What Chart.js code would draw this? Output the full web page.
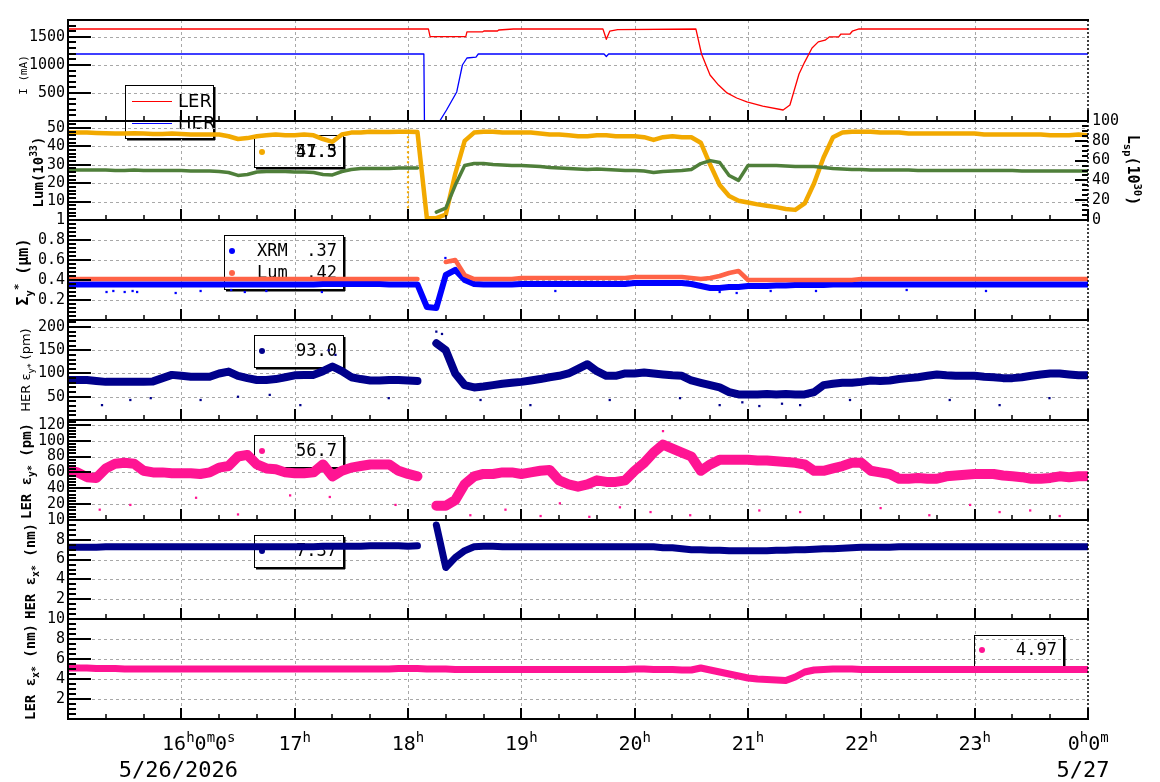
<!DOCTYPE html>
<html>
<head>
<meta charset="utf-8">
<script src="https://cdn.jsdelivr.net/npm/chart.js@4.4.0/dist/chart.umd.min.js"></script>
<style>
  body { margin: 0; background: #fff; width: 1160px; height: 782px; overflow: hidden; position: relative; }
  canvas { position: absolute; left: 0; }
</style>
</head>
<body>
<script>
// ---- time axis (hours, 15:00 -> 24:00) ----
const t5 = Array.from({ length: 109 }, (_, i) => 15 + i / 12);   // 5 minute grid
const hourTicks = [16, 17, 18, 19, 20, 21, 22, 23, 24];
const timeLabels = [['16', '^h', '0', '^m', '0', '^s'], ['17', '^h'], ['18', '^h'], ['19', '^h'], ['20', '^h'],
                    ['21', '^h'], ['22', '^h'], ['23', '^h'], ['0', '^h', '0', '^m']];
const dateTicks = [16, 24];
const dateLabels = ['5/26/2026', '5/27'];

// ---- beam currents (mA) ----
const tLER = [15, 18.18, 18.195, 18.51, 18.52, 18.66, 18.67, 18.79, 18.8, 18.93, 19.72, 19.75, 19.78, 19.85,
              20.54, 20.59, 20.665, 20.74, 20.815, 20.9, 20.99, 21.13, 21.31, 21.37, 21.45, 21.5, 21.565,
              21.62, 21.68, 21.72, 21.8, 21.82, 21.9, 21.92, 21.98, 24];
const curLER = [1640, 1640, 1505, 1505, 1590, 1590, 1604, 1604, 1622, 1640, 1640, 1456, 1600, 1630,
                1640, 1194, 820, 640, 500, 410, 339, 267, 196, 285, 837, 1050, 1300,
                1410, 1440, 1500, 1500, 1550, 1550, 1600, 1640, 1640];
const tHER = [15, 18.14, 18.145, 18.28, 18.34, 18.43, 18.48, 18.52, 18.6, 18.62, 19.73, 19.75, 19.77, 24];
const curHER = [1194, 1194, 0, 0, 196, 517, 998, 1123, 1140, 1194, 1194, 1150, 1194, 1194];

// ---- luminosity: Lum (10^33, left) and Lsp (10^30, right) ----
const lum = [
  47.5, 47.5, 47.5, 47.3, 47.2, 47.0, 47.0, 47.2, 47.0, 46.8, 46.8, 47.0,
  46.8, 46.5, 46.5, 46.5, 46.5, 45.5, 44.0, 44.5, 45.5, 46.0, 46.5, 46.0,
  46.0, 46.5, 46.0, 44.0, 42.5, 46.5, 47.5, 47.5, 48.0, 47.8, 47.8, 48.0,
  48.0, 47.8, 1, 1, 3, 25, 43, 47.5, 48, 48, 47.5, 47.5,
  47.5, 47.5, 47, 46.5, 46.5, 46, 45.5, 45.5, 46, 46, 45.5, 45.5,
  45.5, 45, 43.5, 45, 45.5, 45, 45, 42, 30, 19, 13, 10.5,
  9.5, 8.5, 7.8, 7, 6, 5.5, 9, 20, 34, 45, 47.5, 48,
  48, 48, 47.5, 47.5, 47.5, 47, 47, 47, 47, 47, 47, 47,
  47, 46.5, 46.5, 46.5, 46.5, 46.5, 46.5, 46.5, 46, 46, 46, 46.5,
  46];
const lumMarkT = [18.0, 18.0];      // dotted Lum trace at the 18h mark
const lumMarkV = [1, 47];
const lsp = [
  50.5, 50.5, 50.5, 50.5, 50.5, 50, 50, 50.5, 50, 50, 50, 50,
  50, 49.5, 49.5, 49.5, 49, 48, 45, 46, 48.5, 49, 49, 49,
  48.5, 48.5, 48, 46, 45.5, 49, 51, 52, 52, 52, 52, 52.5,
  52.5, 52.5, null, 8, 12, 35, 55, 57, 57, 56, 55.5, 55,
  55, 54.5, 54, 53, 52.5, 52, 51.5, 51, 51.5, 51, 50.5, 50,
  50, 49.5, 48, 49, 49.5, 50, 51, 57, 60, 58, 45, 40,
  55, 55, 55, 55, 54.5, 54, 54, 54, 53, 52, 51.5, 51,
  51, 50.5, 50.5, 50.5, 50.5, 50.5, 50, 50, 50, 50, 50, 50,
  50, 50, 50, 50, 50, 49.5, 49.5, 49.5, 49.5, 49.5, 49.5, 49.5,
  49.5];

// ---- vertical beam size (um) ----
const sigLum = [
  0.41, 0.41, 0.41, 0.41, 0.41, 0.41, 0.41, 0.41, 0.41, 0.41, 0.41, 0.41,
  0.41, 0.41, 0.41, 0.41, 0.41, 0.41, 0.41, 0.41, 0.41, 0.41, 0.41, 0.41,
  0.41, 0.41, 0.41, 0.41, 0.41, 0.41, 0.41, 0.41, 0.41, 0.41, 0.41, 0.41,
  0.41, 0.41, null, null, 0.58, 0.6, 0.45, 0.41, 0.41, 0.41, 0.41, 0.41,
  0.42, 0.42, 0.42, 0.42, 0.42, 0.42, 0.42, 0.42, 0.42, 0.42, 0.42, 0.42,
  0.43, 0.43, 0.43, 0.43, 0.43, 0.43, 0.42, 0.41, 0.42, 0.44, 0.47, 0.49,
  0.40, 0.40, 0.40, 0.40, 0.40, 0.40, 0.40, 0.40, 0.40, 0.40, 0.40, 0.40,
  0.41, 0.41, 0.41, 0.41, 0.41, 0.41, 0.41, 0.41, 0.41, 0.41, 0.41, 0.41,
  0.41, 0.41, 0.41, 0.41, 0.41, 0.41, 0.41, 0.41, 0.41, 0.41, 0.41, 0.41,
  0.41];
const sigXRM = [
  0.355, 0.355, 0.355, 0.355, 0.355, 0.355, 0.355, 0.355, 0.355, 0.355, 0.355, 0.355,
  0.355, 0.355, 0.355, 0.355, 0.355, 0.355, 0.355, 0.355, 0.355, 0.355, 0.355, 0.355,
  0.355, 0.355, 0.355, 0.36, 0.36, 0.36, 0.36, 0.36, 0.36, 0.36, 0.355, 0.355,
  0.355, 0.355, 0.13, 0.12, 0.45, 0.5, 0.4, 0.36, 0.355, 0.355, 0.355, 0.355,
  0.36, 0.36, 0.36, 0.36, 0.36, 0.36, 0.36, 0.36, 0.36, 0.36, 0.36, 0.36,
  0.37, 0.37, 0.37, 0.37, 0.37, 0.37, 0.36, 0.34, 0.32, 0.32, 0.33, 0.33,
  0.34, 0.34, 0.34, 0.345, 0.345, 0.35, 0.35, 0.35, 0.35, 0.355, 0.355, 0.355,
  0.355, 0.355, 0.355, 0.355, 0.355, 0.355, 0.355, 0.355, 0.355, 0.355, 0.355, 0.355,
  0.355, 0.355, 0.355, 0.355, 0.355, 0.355, 0.355, 0.355, 0.355, 0.355, 0.355, 0.355,
  0.355];
const xrmOutT = [15.34, 15.4, 15.5, 15.57, 15.61, 15.95, 16.17, 16.44, 16.56, 16.75, 17.24, 18.33, 18.38, 18.42,
                 19.3, 20.75, 20.9, 21.2, 21.6, 22.4, 23.1];
const xrmOutV = [0.28, 0.29, 0.28, 0.29, 0.28, 0.27, 0.29, 0.3, 0.28, 0.29, 0.28, 0.62, 0.58, 0.52,
                 0.29, 0.28, 0.27, 0.29, 0.29, 0.3, 0.29];

// ---- vertical emittance (pm) ----
const herEy = [
  86, 86, 86, 84, 82, 82, 82, 82, 82, 83, 90, 97,
  95, 93, 93, 93, 100, 104, 95, 90, 86, 86, 88, 92,
  96, 97, 97, 105, 115, 105, 92, 88, 85, 85, 86, 86,
  85, 84, null, 165, 150, 100, 75, 70, 72, 75, 78, 80,
  82, 85, 88, 92, 95, 100, 110, 120, 105, 95, 95, 100,
  100, 102, 100, 98, 96, 95, 85, 80, 75, 70, 60, 55,
  55, 55, 56, 55, 56, 55, 55, 60, 75, 78, 80, 80,
  82, 85, 84, 85, 88, 90, 92, 95, 98, 96, 95, 95,
  95, 93, 92, 90, 90, 92, 95, 98, 100, 100, 98, 96,
  96];
const herEyOutT = [15.3, 15.55, 15.73, 16.17, 16.5, 16.78, 17.05, 17.3, 17.36, 17.83, 18.25, 18.3, 18.64, 19.08,
                   19.78, 20.4, 20.75, 20.95, 21.1, 21.3, 21.46, 21.9, 22.78, 23.22, 23.66];
const herEyOutV = [32, 43, 47, 43, 50, 54, 32, 150, 140, 47, 190, 185, 43, 32,
                   43, 47, 32, 38, 30, 35, 32, 43, 43, 32, 47];
const lerEy = [
  63, 60, 54, 53, 65, 71, 72, 71, 62, 60, 60, 59,
  59, 59, 58, 60, 66, 68, 80, 82, 70, 65, 64, 60,
  59, 59, 60, 70, 55, 62, 66, 68, 70, 70, 70, 62,
  58, 55, null, 18, 18, 25, 45, 55, 58, 58, 60, 60,
  58, 60, 62, 63, 50, 45, 42, 45, 50, 48, 48, 50,
  62, 72, 85, 95, 90, 85, 80, 62, 70, 76, 76, 76,
  76, 75, 75, 74, 73, 72, 70, 62, 62, 65, 68, 72,
  72, 62, 60, 58, 52, 52, 53, 52, 52, 55, 56, 57,
  58, 58, 58, 56, 55, 54, 52, 52, 53, 55, 54, 55,
  55];
const lerEyOutT = [15.28, 15.55, 16.13, 16.5, 16.96, 17.31, 17.89, 18.55, 18.86, 19.17, 19.34, 19.6, 19.87,
                   20.14, 20.25, 20.49, 21.1, 21.46, 22.17, 22.6, 22.96, 23.22, 23.49, 23.75];
const lerEyOutV = [13, 19, 28, 7, 31, 29, 19, 6, 13, 5, 21, 4, 16,
                   10, 112, 6, 12, 10, 15, 6, 19, 10, 12, 5];

// ---- horizontal emittance (nm) ----
const herEx = [
  7.25, 7.25, 7.25, 7.25, 7.3, 7.3, 7.3, 7.3, 7.3, 7.3, 7.3, 7.3,
  7.3, 7.3, 7.3, 7.3, 7.3, 7.3, 7.3, 7.3, 7.3, 7.3, 7.3, 7.3,
  7.3, 7.3, 7.3, 7.35, 7.35, 7.35, 7.35, 7.35, 7.4, 7.4, 7.4, 7.4,
  7.35, 7.4, null, 9.5, 5.2, 6.2, 6.9, 7.3, 7.35, 7.35, 7.3, 7.3,
  7.3, 7.3, 7.3, 7.3, 7.3, 7.3, 7.3, 7.3, 7.3, 7.3, 7.3, 7.3,
  7.3, 7.3, 7.3, 7.2, 7.2, 7.1, 7.0, 7.0, 6.95, 6.95, 6.9, 6.9,
  6.9, 6.9, 6.9, 6.95, 6.95, 7.0, 7.0, 7.05, 7.1, 7.1, 7.15, 7.2,
  7.25, 7.25, 7.25, 7.25, 7.3, 7.3, 7.3, 7.3, 7.3, 7.3, 7.3, 7.3,
  7.3, 7.3, 7.3, 7.3, 7.3, 7.3, 7.3, 7.3, 7.3, 7.3, 7.3, 7.3,
  7.3];
const lerEx = [
  5.1, 5.1, 5.1, 5.05, 5.05, 5.05, 5.0, 5.0, 5.0, 5.0, 5.0, 5.0,
  5.0, 5.0, 5.0, 5.0, 5.0, 5.0, 5.0, 5.0, 5.0, 5.0, 5.0, 5.0,
  5.0, 5.0, 5.0, 5.0, 5.0, 5.0, 5.0, 5.0, 5.0, 5.0, 5.0, 5.05,
  5.05, 5.05, 5.0, 5.0, 5.0, 4.95, 4.95, 4.95, 4.95, 4.95, 4.95, 4.95,
  4.95, 4.95, 4.95, 4.95, 4.95, 4.95, 4.95, 4.95, 4.95, 4.95, 4.95, 4.95,
  5.0, 5.0, 4.95, 4.95, 4.95, 4.9, 4.9, 5.1, 4.9, 4.7, 4.5, 4.3,
  4.1, 4.0, 3.95, 3.9, 3.85, 4.2, 4.7, 4.9, 4.95, 5.0, 5.0, 5.0,
  4.95, 4.95, 4.95, 4.95, 4.95, 4.95, 4.95, 4.95, 4.95, 4.95, 4.95, 4.95,
  4.95, 4.95, 4.95, 4.95, 4.95, 4.95, 4.95, 4.95, 4.95, 4.95, 4.95, 4.95,
  4.95];

// ---- colours ----
const RED = '#ff0000', BLUE = '#0000ff', ORANGE = '#f2a900', GREEN = '#4f7f3a',
      TOMATO = '#ff6347', NAVY = '#00008b', PINK = '#ff1493';

const MONO = '"DejaVu Sans Mono", monospace';
const SANS = '"DejaVu Sans", sans-serif';

const pts = (xs, ys) => xs.map((x, i) => ({ x, y: ys[i] }));

// rich text: '^..' superscript, '_..' subscript
function richSegs(parts, size) {
  return parts.map(p => {
    if (p[0] === '^') return { t: p.slice(1), s: size * 0.7, dy: -size * 0.42 };
    if (p[0] === '_') return { t: p.slice(1), s: size * 0.7, dy: size * 0.3 };
    return { t: p, s: size, dy: 0 };
  });
}
function drawRich(ctx, parts, x, y, size, weight, family, rot) {
  const segs = richSegs(parts, size);
  ctx.save();
  ctx.translate(x, y);
  ctx.rotate(rot || 0);
  ctx.fillStyle = '#000';
  ctx.textBaseline = 'alphabetic';
  ctx.textAlign = 'left';
  let w = 0;
  segs.forEach(s => { ctx.font = `${weight} ${s.s}px ${family}`; s.w = ctx.measureText(s.t).width; w += s.w; });
  let cx = -w / 2;
  segs.forEach(s => {
    ctx.font = `${weight} ${s.s}px ${family}`;
    ctx.fillText(s.t, cx, s.dy);
    cx += s.w;
  });
  ctx.restore();
}

function hline(ctx, x1, x2, y) { ctx.beginPath(); ctx.moveTo(x1, y); ctx.lineTo(x2, y); ctx.stroke(); }
function vline(ctx, x, y1, y2) { ctx.beginPath(); ctx.moveTo(x, y1); ctx.lineTo(x, y2); ctx.stroke(); }

function drawLegend(ctx, lg, off) {
  const x = lg.x, y = lg.y - off;
  ctx.save();
  ctx.setLineDash([]);
  ctx.strokeStyle = '#000';
  ctx.lineWidth = 1;
  ctx.strokeRect(x + 0.5, y + 0.5, lg.w, lg.h);
  ctx.lineWidth = 2;
  hline(ctx, x + 2, x + lg.w + 2, y + lg.h + 1.5);
  vline(ctx, x + lg.w + 1.5, y + 2, y + lg.h + 2);
  lg.items.forEach(it => {
    const iy = it.y - off;
    if (it.line) {
      ctx.strokeStyle = it.color; ctx.lineWidth = 1;
      hline(ctx, x + 7, x + 47, iy + 0.5);
    } else {
      ctx.fillStyle = it.color;
      ctx.beginPath(); ctx.arc(x + 8, iy, 3, 0, Math.PI * 2); ctx.fill();
    }
    ctx.fillStyle = '#000';
    ctx.textBaseline = 'middle';
    if (it.label) {
      ctx.font = it.line ? `18px ${SANS}` : `17px ${MONO}`;
      ctx.textAlign = 'left';
      ctx.fillText(it.label, x + (it.line ? 53 : 33), iy + 1);
    }
    (it.nums || []).forEach(v => {
      ctx.font = `17px ${MONO}`;
      ctx.textAlign = 'right';
      ctx.fillText(v, x + lg.w - 6, iy + 1);
    });
  });
  ctx.restore();
}

// frame, grid, inside ticks, legends and titles of one panel
function framePlugin(p, off) {
  return {
    id: 'frame',
    beforeDatasetsDraw(chart) {
      const { ctx, chartArea: a, scales } = chart;
      ctx.save();
      ctx.strokeStyle = '#a8a8a8';
      ctx.lineWidth = 1;
      ctx.setLineDash([3, 3]);
      hourTicks.slice(0, -1).forEach(h => {
        const px = Math.round(scales.x.getPixelForValue(h)) + 0.5;
        vline(ctx, px, a.top, a.bottom);
      });
      p.grid.forEach(v => {
        const py = Math.round(scales.y.getPixelForValue(v)) + 0.5;
        hline(ctx, a.left, a.right, py);
      });
      ctx.restore();
      (p.legends || []).forEach(lg => drawLegend(ctx, lg, off));
    },
    afterDatasetsDraw(chart) {
      const { ctx, chartArea: a, scales } = chart;
      ctx.save();
      ctx.strokeStyle = '#000';
      ctx.setLineDash([]);
      ctx.lineWidth = 2;
      const y = scales.y;
      for (let v = y.min; v <= y.max + 1e-9; v += p.minor) {
        hline(ctx, a.left, a.left + 8, Math.round(y.getPixelForValue(v)));
      }
      p.grid.forEach(v => hline(ctx, a.left, a.left + 23, Math.round(y.getPixelForValue(v))));
      if (scales.y2) {
        const y2 = scales.y2;
        for (let v = y2.min; v <= y2.max + 1e-9; v += p.y2.minor) {
          hline(ctx, a.right - 6, a.right, Math.round(y2.getPixelForValue(v)));
        }
        p.y2.grid.forEach(v => hline(ctx, a.right - 13, a.right, Math.round(y2.getPixelForValue(v))));
      }
      for (let m = 0; m <= 27; m++) {
        const px = Math.round(scales.x.getPixelForValue(15 + m / 3));
        const major = m % 3 === 0;
        ctx.lineWidth = major ? 2 : 1.5;
        vline(ctx, px, a.bottom, a.bottom - (major ? 11 : 5));
      }
      ctx.lineWidth = 2;
      hline(ctx, a.left - 1, a.right + 1, a.top);
      hline(ctx, a.left - 1, a.right + 1, a.bottom);
      vline(ctx, a.left, a.top, a.bottom);
      ctx.lineWidth = 1.5;
      ctx.setLineDash([2, 2]);
      vline(ctx, a.right, a.top, a.bottom);
      ctx.restore();
    },
    afterDraw(chart) {
      const { ctx, scales } = chart;
      (p.titles || []).forEach(t =>
        drawRich(ctx, t.parts, t.x, t.y - off, t.size, t.weight, t.family, t.rot));
      if (!p.timeAxis) return;
      ctx.save();
      ctx.fillStyle = '#000';
      ctx.textBaseline = 'alphabetic';
      ctx.textAlign = 'left';
      hourTicks.forEach((h, i) => {
        const px = scales.x.getPixelForValue(h);
        const segs = richSegs(timeLabels[i], 20);
        segs.forEach(s => { ctx.font = `${s.s}px ${MONO}`; s.w = ctx.measureText(s.t).width; });
        let cx = px - (segs[0].w + segs[1].w) / 2 - (i === 0 ? 3 : 0) - (i === hourTicks.length - 1 ? 10 : 0);
        segs.forEach(s => { ctx.font = `${s.s}px ${MONO}`; ctx.fillText(s.t, cx, 750 - off + s.dy * 0.9); cx += s.w; });
      });
      ctx.font = `22px ${MONO}`;
      ctx.textAlign = 'center';
      dateTicks.forEach((h, i) => ctx.fillText(dateLabels[i], scales.x.getPixelForValue(h) - (i === 0 ? 3 : 5), 777 - off));
      ctx.restore();
    }
  };
}

function fmt(v) { return String(Math.round(v * 100) / 100); }

function makePanel(p) {
  const cv = document.createElement('canvas');
  const off = p.top - p.padTop;
  cv.width = 1160;
  cv.height = p.bottom - p.top + p.padTop + p.padBottom;
  cv.style.top = off + 'px';
  document.body.appendChild(cv);
  const yAxis = (min, max, ticks, pos) => ({
    type: 'linear', position: pos, min, max,
    afterFit: s => { s.width = pos === 'left' ? 68 : 72; },
    afterBuildTicks: s => { s.ticks = ticks.map(v => ({ value: v })); },
    grid: { display: false, drawTicks: false },
    border: { display: false },
    ticks: { color: '#000', font: { family: 'DejaVu Sans Mono', size: 15 }, padding: pos === 'left' ? 3 : 4,
             autoSkip: false, callback: v => fmt(v) }
  });
  const scales = {
    x: { type: 'linear', min: 15, max: 24, display: false },
    y: yAxis(p.yMin, p.yMax, p.grid, 'left')
  };
  if (p.y2) scales.y2 = yAxis(p.y2.min, p.y2.max, p.y2.grid, 'right');
  return new Chart(cv, {
    type: 'line',
    data: { datasets: p.datasets.map(d => Object.assign({
      pointRadius: 0, tension: 0, spanGaps: false, fill: false, borderJoinStyle: 'round', borderCapStyle: 'round'
    }, d)) },
    options: {
      responsive: false, animation: false, events: [],
      layout: { padding: { top: p.padTop, bottom: p.padBottom, left: 0, right: p.y2 ? 0 : 72 } },
      scales,
      plugins: { legend: { display: false }, tooltip: { enabled: false } }
    },
    plugins: [framePlugin(p, off)]
  });
}

const band = (data, color, w, axis) => ({ data, borderColor: color, backgroundColor: color, borderWidth: w, yAxisID: axis || 'y' });
const dots = (data, color) => ({ data, showLine: false, pointRadius: 1.6, pointStyle: 'rect', pointBorderWidth: 0,
                                 pointBackgroundColor: color, borderColor: color, yAxisID: 'y' });
const UP = -Math.PI / 2;

// Panel 1: beam currents
makePanel({
  top: 20, bottom: 121, padTop: 20, padBottom: 24, yMin: 0, yMax: 1800, grid: [500, 1000, 1500], minor: 100,
  datasets: [band(pts(tLER, curLER), RED, 1.3), band(pts(tHER, curHER), BLUE, 1.3)],
  titles: [{ parts: ['I (mA)'], x: 27, y: 75, size: 11, weight: 'normal', family: MONO, rot: UP }],
  legends: [{ x: 125, y: 85, w: 88, h: 53, items: [
    { line: true, color: RED, label: 'LER', y: 101 },
    { line: true, color: BLUE, label: 'HER', y: 123 }] }]
});

// Panel 2: luminosity
makePanel({
  top: 121, bottom: 220, padTop: 14, padBottom: 14, yMin: 0, yMax: 53.8, grid: [10, 20, 30, 40, 50], minor: 2,
  y2: { min: 0, max: 100, grid: [0, 20, 40, 60, 80, 100], minor: 5 },
  datasets: [
    band(pts(t5, lsp), GREEN, 3.5, 'y2'),
    Object.assign(band(pts(lumMarkT, lumMarkV), ORANGE, 2.2), { borderDash: [2, 3], borderCapStyle: 'butt' }),
    band(pts(t5, lum), ORANGE, 4.5)
  ],
  titles: [
    { parts: ['Lum(10', '^33', ')'], x: 43, y: 172, size: 14, weight: 'bold', family: MONO, rot: UP },
    { parts: ['L', '_sp', '(10', '^30', ')'], x: 1128, y: 170, size: 15, weight: 'bold', family: MONO, rot: -UP }
  ],
  legends: [{ x: 254, y: 135, w: 89, h: 32, items: [{ color: ORANGE, nums: ['47.5', '51.3'], y: 152 }] }]
});

// Panel 3: vertical beam size
makePanel({
  top: 220, bottom: 320, padTop: 14, padBottom: 14, yMin: 0, yMax: 1, grid: [0.2, 0.4, 0.6, 0.8, 1], minor: 0.04,
  datasets: [band(pts(t5, sigLum), TOMATO, 4.5), dots(pts(xrmOutT, xrmOutV), BLUE), band(pts(t5, sigXRM), BLUE, 6)],
  titles: [{ parts: ['Σ', '_y', '^*', ' (µm)'], x: 28, y: 272, size: 15, weight: 'bold', family: MONO, rot: UP }],
  legends: [{ x: 224, y: 235, w: 119, h: 54, items: [
    { color: BLUE, label: 'XRM', nums: ['.37'], y: 251 },
    { color: TOMATO, label: 'Lum', nums: ['.42'], y: 273 }] }]
});

// Panel 4: HER vertical emittance
makePanel({
  top: 320, bottom: 420, padTop: 14, padBottom: 14, yMin: 0, yMax: 215, grid: [50, 100, 150, 200], minor: 10,
  datasets: [dots(pts(herEyOutT, herEyOutV), NAVY), band(pts(t5, herEy), NAVY, 8)],
  titles: [{ parts: ['HER ε', '_y*', ' (pm)'], x: 30, y: 370, size: 13, weight: 'normal', family: SANS, rot: UP }],
  legends: [{ x: 254, y: 335, w: 89, h: 32, items: [{ color: NAVY, nums: ['93.0'], y: 351 }] }]
});

// Panel 5: LER vertical emittance
makePanel({
  top: 420, bottom: 520, padTop: 14, padBottom: 14, yMin: 0, yMax: 126, grid: [20, 40, 60, 80, 100, 120], minor: 4,
  datasets: [dots(pts(lerEyOutT, lerEyOutV), PINK), band(pts(t5, lerEy), PINK, 10)],
  titles: [{ parts: ['LER ε', '_y*', ' (pm)'], x: 31, y: 471, size: 14, weight: 'bold', family: MONO, rot: UP }],
  legends: [{ x: 254, y: 435, w: 89, h: 32, items: [{ color: PINK, nums: ['56.7'], y: 451 }] }]
});

// Panel 6: HER horizontal emittance
makePanel({
  top: 520, bottom: 619, padTop: 14, padBottom: 14, yMin: 0, yMax: 10, grid: [2, 4, 6, 8, 10], minor: 0.5,
  datasets: [band(pts(t5, herEx), NAVY, 7)],
  titles: [{ parts: ['HER ε', '_x*', ' (nm)'], x: 35, y: 571, size: 14, weight: 'bold', family: MONO, rot: UP }],
  legends: [{ x: 254, y: 535, w: 89, h: 32, items: [{ color: NAVY, nums: ['7.37'], y: 551 }] }]
});

// Panel 7: LER horizontal emittance + time axis
makePanel({
  top: 619, bottom: 719, padTop: 14, padBottom: 63, yMin: 0, yMax: 10, grid: [2, 4, 6, 8, 10], minor: 0.5,
  datasets: [band(pts(t5, lerEx), PINK, 7)],
  titles: [{ parts: ['LER ε', '_x*', ' (nm)'], x: 35, y: 672, size: 14, weight: 'bold', family: MONO, rot: UP }],
  legends: [{ x: 974, y: 635, w: 89, h: 31, items: [{ color: PINK, nums: ['4.97'], y: 650 }] }],
  timeAxis: true
});
</script>
</body>
</html>
